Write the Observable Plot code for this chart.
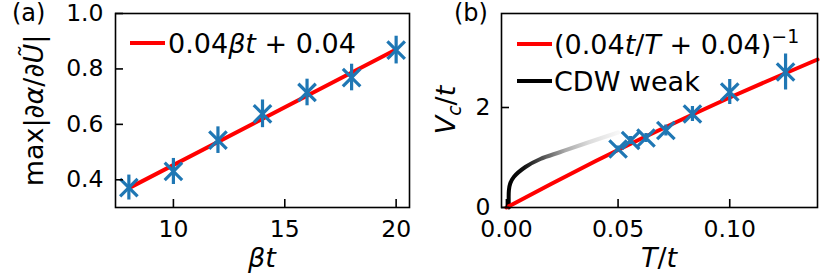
<!DOCTYPE html>
<html><head><meta charset="utf-8">
<script src="https://cdn.jsdelivr.net/npm/d3@7"></script>
<script src="https://cdn.jsdelivr.net/npm/@observablehq/plot@0.6"></script>
<style>
html,body{margin:0;padding:0;background:#fff;}
#wrap{position:relative;width:822px;height:277px;overflow:hidden;font-family:"DejaVu Sans";}
#wrap svg{position:absolute;top:0;overflow:visible;}
</style></head><body><div id="wrap"></div>
<script>
// ---------- Panel (a) data ----------
const betaT = [8, 10, 12, 14, 16, 18, 20];
const maxDeriv = [0.372, 0.430, 0.543, 0.638, 0.715, 0.769, 0.868];
const maxDerivErr = [0.045, 0.047, 0.048, 0.050, 0.048, 0.048, 0.050];
const fitBetaT = [8, 20];
const fitMaxDeriv = [0.37, 0.87];
const xTicksA = [10, 15, 20];
const yTicksA = [0.4, 0.6, 0.8, 1.0];

// ---------- Panel (b) data ----------
const Tt = [0.05, 0.0556, 0.0625, 0.0714, 0.0833, 0.1, 0.125];
const Vc = [1.17, 1.34, 1.39, 1.54, 1.87, 2.31, 2.71];
const VcErr = [0.06, 0.08, 0.09, 0.11, 0.15, 0.25, 0.36];
const fitT = [0, 0.02, 0.04, 0.06, 0.08, 0.10, 0.12, 0.1393];
const fitVc = [0, 0.47, 0.93, 1.37, 1.79, 2.20, 2.59, 2.96];
const cdwT = [0.0011, 0.0011, 0.0017, 0.0033, 0.0085, 0.0152, 0.0242, 0.0346, 0.050];
const cdwVc = [0, 0.34, 0.48, 0.61, 0.81, 0.97, 1.11, 1.27, 1.50];
const xTicksB = [0, 0.05, 0.10];
const yTicksB = [0, 2];

const BLUE = "#1f77b4";
const wrap = document.getElementById("wrap");
const baseStyle = {fontFamily: "DejaVu Sans", fontSize: "23.5px", background: "transparent", color: "#000", overflow: "visible"};

// ---------- Plot (a) ----------
const A = betaT.map((b, i) => ({b, v: maxDeriv[i], e: maxDerivErr[i]}));
const fitA = fitBetaT.map((b, i) => ({b, v: fitMaxDeriv[i]}));
const plotA = Plot.plot({
  width: 411, height: 277,
  marginLeft: 115, marginRight: 2, marginTop: 13, marginBottom: 70,
  style: baseStyle,
  x: {domain: [7.4, 20.6]},
  y: {domain: [0.3, 1.0]},
  marks: [
    Plot.line(fitA, {x: "b", y: "v", stroke: "red", strokeWidth: 4}),
    Plot.ruleX(A, {x: "b", y1: d => d.v - d.e, y2: d => d.v + d.e, stroke: BLUE, strokeWidth: 3.2}),
    Plot.dot(A, {x: "b", y: "v", symbol: "times", r: 8, stroke: BLUE, strokeWidth: 3.2}),
    Plot.axisX({ticks: xTicksA, tickSize: -8, tickPadding: 21, label: null, tickFormat: d3.format("d"), strokeWidth: 1.6}),
    Plot.axisY({ticks: yTicksA, tickSize: -8, tickPadding: 20, label: null, tickFormat: d3.format(".1f"), strokeWidth: 1.6}),
    Plot.frame({stroke: "#000", strokeWidth: 1.6})
  ]
});
plotA.style.left = "0px";
wrap.appendChild(plotA);

// ---------- Plot (b) ----------
const B = Tt.map((t, i) => ({t, v: Vc[i], e: VcErr[i]}));
const fitB = fitT.map((t, i) => ({t, v: fitVc[i]}));
const cdw = cdwT.map((t, i) => ({t, v: cdwVc[i]}));
const gradStops = [[0, "#000000"], [0.14, "#111111"], [0.32, "#555555"], [0.52, "#aaaaaa"], [0.74, "#dcdcdc"], [1, "#f7f7f7"]];
const plotB = Plot.plot({
  width: 411, height: 277,
  marginLeft: 90, marginRight: 5, marginTop: 13, marginBottom: 70,
  style: baseStyle,
  x: {domain: [-0.0022, 0.1393]},
  y: {domain: [0, 3.88]},
  marks: [
    () => {
      const defs = d3.create("svg:defs");
      const g = defs.append("linearGradient").attr("id", "cdwGrad")
        .attr("x1", "0").attr("x2", "1").attr("y1", "0").attr("y2", "0");
      gradStops.forEach(([o, c]) => g.append("stop").attr("offset", o).attr("stop-color", c));
      return defs.node();
    },
    Plot.line(cdw, {x: "t", y: "v", stroke: "url(#cdwGrad)", strokeWidth: 4, curve: "catmull-rom"}),
    Plot.line(fitB, {x: "t", y: "v", stroke: "red", strokeWidth: 4}),
    Plot.ruleX(B, {x: "t", y1: d => d.v - d.e, y2: d => d.v + d.e, stroke: BLUE, strokeWidth: 3.2}),
    Plot.dot(B, {x: "t", y: "v", symbol: "times", r: 8, stroke: BLUE, strokeWidth: 3.2}),
    Plot.axisX({ticks: xTicksB, tickSize: -8, tickPadding: 21, label: null, tickFormat: d3.format(".2f"), strokeWidth: 1.6}),
    Plot.axisY({ticks: yTicksB, tickSize: -8, tickPadding: 19, label: null, tickFormat: d3.format("d"), strokeWidth: 1.6}),
    Plot.frame({stroke: "#000", strokeWidth: 1.6})
  ]
});
plotB.style.left = "411px";
wrap.appendChild(plotB);

// ---------- Overlay: labels and legends ----------
const ov = d3.select(wrap).append("svg")
  .attr("width", 822).attr("height", 277)
  .style("left", "0px").style("font-family", "DejaVu Sans");

function rich(sel, parts) {
  parts.forEach(p => {
    const [txt, kind] = Array.isArray(p) ? p : [p, ""];
    const t = sel.append("tspan").text(txt);
    if (kind.includes("i")) t.attr("font-style", "italic");
    if (kind.includes("sup")) t.attr("font-size", "0.7em").attr("dy", "-0.55em");
    if (kind.includes("sub")) t.attr("font-size", "0.7em").attr("dy", "0.3em");
    if (kind.includes("back")) t.attr("dy", "-0.21em");
  });
  return sel;
}
function label(x, y, size, parts, rotate = false, anchor = "middle") {
  const t = ov.append("text").attr("font-size", size).attr("text-anchor", anchor).attr("fill", "#000")
    .attr("transform", rotate ? `translate(${x},${y}) rotate(-90)` : `translate(${x},${y})`);
  rich(t, parts);
}

// panel letters
label(12, 20.5, 24, ["(a)"], false, "start");
label(454, 20.5, 24, ["(b)"], false, "start");

// axis labels (a)
label(262, 267, 27, [["βt", "i"]]);
label(43, 110.5, 27, ["max|", ["∂α", "i"], "/", ["∂U\u0303", "i"], "|"], true);
// axis labels (b)
label(659, 267, 27, [["T", "i"], "/", ["t", "i"]]);
label(455, 110, 27, [["V", "i"], ["c", "i sub"], ["/", "back"], ["t", "i"]], true);

// legends
const legFs = 27;
function swatch(x1, x2, y, color) {
  ov.append("line").attr("x1", x1).attr("x2", x2).attr("y1", y).attr("y2", y)
    .attr("stroke", color).attr("stroke-width", 4);
}
swatch(130, 165, 43, "red");
label(168, 43 + 9.8, legFs, ["0.04", ["βt", "i"], " + 0.04"], false, "start");

swatch(517, 552, 44, "red");
label(554, 44 + 9.8, legFs, ["(0.04", ["t", "i"], "/", ["T", "i"], " + 0.04)", ["−1", "sup"]], false, "start");
swatch(517, 552, 81, "#000");
label(554, 81 + 9.8, legFs, ["CDW weak"], false, "start");
</script></body></html>
